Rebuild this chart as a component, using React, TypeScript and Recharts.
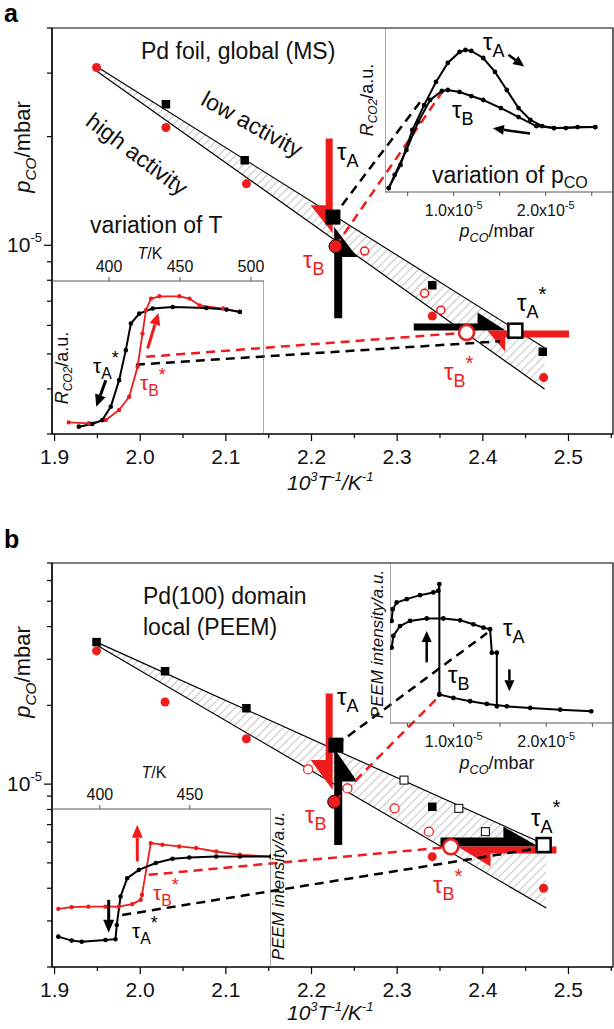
import React from 'react';
import { ComposedChart, LineChart, Line, Area, Scatter, XAxis, YAxis, ReferenceLine, ReferenceArea } from 'recharts';

const RED = '#ee1c1c';
const FONT = '"Liberation Sans", Arial, sans-serif';

// ---------- axes
const mainXTicks = [1.9, 1.95, 2.0, 2.05, 2.1, 2.15, 2.2, 2.25, 2.3, 2.35, 2.4, 2.45, 2.5, 2.55];
const yTicksA = [3e-6, 4e-6, 5e-6, 6e-6, 7e-6, 8e-6, 9e-6, 1e-5, 2e-5, 3e-5, 4e-5];
const yTicksB = [2e-6, 3e-6, 4e-6, 5e-6, 6e-6, 7e-6, 8e-6, 9e-6, 1e-5, 2e-5, 3e-5, 4e-5, 5e-5, 6e-5, 7e-5];
const pcoTicks = [0.5, 1.0, 1.5, 2.0, 2.5]; // x 1e-5 mbar
const tempTicksA = [400, 450, 500];
const tempTicksB = [400, 450];

// ---------- panel a, main plot (1000/T vs p_CO)
const bandA = [
  { x: 1.949, band: [3.04e-5, 3.13e-5] },
  { x: 2.472, band: [4.0e-6, 5.2e-6] },
];
const closedSquaresA = [
  { x: 2.030, y: 2.46e-5 }, { x: 2.122, y: 1.72e-5 }, { x: 2.341, y: 7.75e-6 }, { x: 2.470, y: 5.07e-6 },
];
const closedCirclesA = [
  { x: 1.949, y: 3.11e-5 }, { x: 2.030, y: 2.12e-5 }, { x: 2.124, y: 1.48e-5 }, { x: 2.341, y: 6.37e-6 }, { x: 2.471, y: 4.3e-6 },
];
const openCirclesA = [{ x: 2.262, y: 9.64e-6 }, { x: 2.332, y: 7.36e-6 }, { x: 2.351, y: 6.61e-6 }];
const tauAPointA = [{ x: 2.225, y: 1.197e-5 }];
const tauBPointA = [{ x: 2.228, y: 9.94e-6 }];
const tauAStarPointA = [{ x: 2.438, y: 5.8e-6 }];
const tauBStarPointA = [{ x: 2.381, y: 5.73e-6 }];
const linkABlackUp = [{ x: 2.225, y: 1.197e-5 }, { x: 2.328, y: 2.515e-5 }];
const linkARedUp = [{ x: 2.228, y: 9.94e-6 }, { x: 2.355, y: 2.71e-5 }];
const linkARedLow = [{ x: 2.007, y: 4.91e-6 }, { x: 2.381, y: 5.73e-6 }];
const linkABlackLow = [{ x: 1.995, y: 4.67e-6 }, { x: 2.42, y: 5.42e-6 }];
const harpoonARedV = [{ x: 2.2247, y: 1.975e-5 }, { x: 2.2247, y: 1.079e-5 }];
const harpoonABlackV = [{ x: 2.2265, y: 6.28e-6 }, { x: 2.2265, y: 1.123e-5 }];
const harpoonABlackH = [{ x: 2.3194, y: 5.81e-6 }, { x: 2.4266, y: 5.81e-6 }];
const harpoonARedH = [{ x: 2.5006, y: 5.81e-6 }, { x: 2.405, y: 5.81e-6 }];

// panel a, inset: variation of p_CO (x in 1e-5 mbar, R_CO2 a.u.)
const insetAPcoUp = [
  { x: 0.295, y: 0.024 }, { x: 0.423, y: 0.165 }, { x: 0.551, y: 0.378 }, { x: 0.679, y: 0.530 }, { x: 0.808, y: 0.671 },
  { x: 0.936, y: 0.787 }, { x: 1.064, y: 0.854 }, { x: 1.128, y: 0.866 }, { x: 1.192, y: 0.860 }, { x: 1.321, y: 0.817 },
  { x: 1.449, y: 0.732 }, { x: 1.577, y: 0.622 }, { x: 1.705, y: 0.512 }, { x: 1.833, y: 0.439 }, { x: 1.962, y: 0.402 },
  { x: 2.090, y: 0.390 }, { x: 2.218, y: 0.390 }, { x: 2.346, y: 0.396 }, { x: 2.538, y: 0.396 },
];
const insetAPcoDown = [
  { x: 0.295, y: 0.024 }, { x: 0.359, y: 0.104 }, { x: 0.487, y: 0.256 }, { x: 0.615, y: 0.427 }, { x: 0.744, y: 0.561 },
  { x: 0.872, y: 0.616 }, { x: 0.936, y: 0.622 }, { x: 1.064, y: 0.610 }, { x: 1.192, y: 0.585 }, { x: 1.321, y: 0.561 },
  { x: 1.513, y: 0.512 }, { x: 1.705, y: 0.457 }, { x: 1.897, y: 0.402 }, { x: 2.090, y: 0.390 }, { x: 2.538, y: 0.396 },
];
const insetAPcoArrowUp = [{ x: 1.595, y: 0.837 }, { x: 1.766, y: 0.765 }];
const insetAPcoArrowDown = [{ x: 1.829, y: 0.357 }, { x: 1.426, y: 0.388 }];

// panel a, inset: variation of T (T in K, R_CO2 a.u.)
const insetATempBlack = [
  { x: 378.7, y: 0.048 }, { x: 388.2, y: 0.065 }, { x: 395.2, y: 0.091 }, { x: 401.2, y: 0.178 }, { x: 407.1, y: 0.352 },
  { x: 411.8, y: 0.548 }, { x: 415.4, y: 0.722 }, { x: 421.3, y: 0.787 }, { x: 430.7, y: 0.820 }, { x: 444.9, y: 0.830 },
  { x: 468.6, y: 0.824 }, { x: 482.8, y: 0.813 }, { x: 492.2, y: 0.798 },
];
const insetATempRed = [
  { x: 371.6, y: 0.076 }, { x: 385.8, y: 0.070 }, { x: 397.7, y: 0.091 }, { x: 407.1, y: 0.157 }, { x: 414.2, y: 0.243 },
  { x: 420.1, y: 0.439 }, { x: 423.6, y: 0.657 }, { x: 426.0, y: 0.809 }, { x: 429.6, y: 0.885 }, { x: 435.5, y: 0.900 },
  { x: 449.6, y: 0.900 }, { x: 456.7, y: 0.885 }, { x: 463.8, y: 0.841 }, { x: 480.4, y: 0.820 }, { x: 492.2, y: 0.798 },
];
const insetATempArrowBlack = [{ x: 397.7, y: 0.352 }, { x: 391.0, y: 0.178 }];
const insetATempArrowRed = [{ x: 427.2, y: 0.559 }, { x: 434.8, y: 0.791 }];

// ---------- panel b, main plot
const bandB = [
  { x: 1.949, band: [3.40e-5, 3.49e-5] },
  { x: 2.474, band: [3.36e-6, 5.85e-6] },
];
const closedSquaresB = [{ x: 1.949, y: 3.49e-5 }, { x: 2.029, y: 2.70e-5 }, { x: 2.124, y: 1.95e-5 }, { x: 2.341, y: 8.19e-6 }];
const openSquaresB = [{ x: 2.308, y: 1.036e-5 }, { x: 2.372, y: 8.08e-6 }, { x: 2.403, y: 6.58e-6 }];
const closedCirclesB = [
  { x: 1.949, y: 3.23e-5 }, { x: 2.029, y: 2.06e-5 }, { x: 2.124, y: 1.49e-5 }, { x: 2.341, y: 5.28e-6 }, { x: 2.471, y: 4.0e-6 },
];
const openCirclesB = [{ x: 2.196, y: 1.138e-5 }, { x: 2.242, y: 9.63e-6 }, { x: 2.297, y: 8.08e-6 }, { x: 2.337, y: 6.58e-6 }];
const tauAPointB = [{ x: 2.2285, y: 1.409e-5 }];
const tauBPointB = [{ x: 2.2265, y: 8.56e-6 }];
const tauAStarPointB = [{ x: 2.471, y: 5.85e-6 }];
const tauBStarPointB = [{ x: 2.3626, y: 5.76e-6 }];
const linkBBlackUp = [{ x: 2.2285, y: 1.409e-5 }, { x: 2.405, y: 3.78e-5 }];
const linkBRedUp = [{ x: 2.2265, y: 8.56e-6 }, { x: 2.348, y: 2.15e-5 }];
const linkBRedLow = [{ x: 2.010, y: 4.50e-6 }, { x: 2.3626, y: 5.76e-6 }];
const linkBBlackLow = [{ x: 1.979, y: 3.16e-6 }, { x: 2.465, y: 5.69e-6 }];
const harpoonBRedV = [{ x: 2.2247, y: 2.219e-5 }, { x: 2.2247, y: 9.49e-6 }];
const harpoonBBlackV = [{ x: 2.2265, y: 5.85e-6 }, { x: 2.2265, y: 1.369e-5 }];
const harpoonBBlackH = [{ x: 2.3506, y: 5.77e-6 }, { x: 2.4649, y: 5.77e-6 }];
const harpoonBRedH = [{ x: 2.486, y: 5.77e-6 }, { x: 2.3705, y: 5.77e-6 }];

// panel b, inset: variation of p_CO (PEEM intensity)
const insetBPcoHigh = [
  { x: 0.328, y: 0.638 }, { x: 0.339, y: 0.711 }, { x: 0.382, y: 0.753 }, { x: 0.491, y: 0.774 }, { x: 0.635, y: 0.799 },
  { x: 0.779, y: 0.816 }, { x: 0.833, y: 0.826 }, { x: 0.844, y: 0.868 }, { x: 0.844, y: 0.178 },
];
const insetBPcoMid = [
  { x: 0.328, y: 0.471 }, { x: 0.346, y: 0.544 }, { x: 0.418, y: 0.606 }, { x: 0.527, y: 0.638 }, { x: 0.707, y: 0.653 },
  { x: 0.887, y: 0.653 }, { x: 1.068, y: 0.642 }, { x: 1.212, y: 0.617 }, { x: 1.321, y: 0.596 }, { x: 1.393, y: 0.586 },
  { x: 1.412, y: 0.439 }, { x: 1.466, y: 0.439 }, { x: 1.466, y: 0.104 },
];
const insetBPcoLow = [
  { x: 0.844, y: 0.178 }, { x: 0.996, y: 0.157 }, { x: 1.177, y: 0.136 }, { x: 1.358, y: 0.119 }, { x: 1.574, y: 0.104 },
  { x: 1.827, y: 0.094 }, { x: 2.152, y: 0.083 }, { x: 2.488, y: 0.073 },
];
const insetBPcoArrowUp = [{ x: 0.707, y: 0.379 }, { x: 0.707, y: 0.575 }];
const insetBPcoArrowDown = [{ x: 1.602, y: 0.335 }, { x: 1.602, y: 0.198 }];

// panel b, inset: variation of T
const insetBTempBlack = [
  { x: 376.9, y: 0.192 }, { x: 384.3, y: 0.167 }, { x: 389.9, y: 0.160 }, { x: 403.1, y: 0.171 }, { x: 408.7, y: 0.176 },
  { x: 409.4, y: 0.266 }, { x: 411.5, y: 0.446 }, { x: 415.2, y: 0.562 }, { x: 421.7, y: 0.615 }, { x: 431.1, y: 0.658 },
  { x: 440.4, y: 0.685 }, { x: 449.7, y: 0.693 }, { x: 464.7, y: 0.699 }, { x: 477.8, y: 0.699 }, { x: 495.1, y: 0.699 },
];
const insetBTempRed = [
  { x: 376.9, y: 0.368 }, { x: 384.3, y: 0.379 }, { x: 393.7, y: 0.382 }, { x: 403.1, y: 0.382 }, { x: 410.5, y: 0.382 },
  { x: 418.0, y: 0.398 }, { x: 422.7, y: 0.425 }, { x: 423.4, y: 0.457 }, { x: 428.3, y: 0.784 }, { x: 434.8, y: 0.774 },
  { x: 444.1, y: 0.763 }, { x: 453.5, y: 0.753 }, { x: 464.7, y: 0.731 }, { x: 477.8, y: 0.710 }, { x: 495.1, y: 0.699 },
];
const insetBTempArrowBlack = [{ x: 404.9, y: 0.425 }, { x: 404.9, y: 0.216 }];
const insetBTempArrowRed = [{ x: 420.8, y: 0.668 }, { x: 420.8, y: 0.900 }];

// ---------- shapes
const seg = (pts: any[]) => [{ x: pts[0].x, y: pts[0].y }, { x: pts[1].x, y: pts[1].y }];

// thick half-arrow: shaft and barb on one side of the line start -> tip
const harpoon = (shaft: number, headLen: number, headW: number, color: string, side = 1) => (p: any) => {
  const { x1, y1, x2, y2 } = p;
  const len = Math.hypot(x2 - x1, y2 - y1) || 1;
  const dx = (x2 - x1) / len;
  const dy = (y2 - y1) / len;
  const nx = -dy * side;
  const ny = dx * side;
  const bx = x2 - dx * headLen;
  const by = y2 - dy * headLen;
  const pts = [
    [x1, y1], [x2, y2], [bx + nx * headW, by + ny * headW], [bx + nx * shaft, by + ny * shaft], [x1 + nx * shaft, y1 + ny * shaft],
  ];
  return <polygon points={pts.map((q) => q.join(',')).join(' ')} fill={color} />;
};

const arrow = (color: string, w: number, headLen: number, headW: number) => (p: any) => {
  const { x1, y1, x2, y2 } = p;
  const len = Math.hypot(x2 - x1, y2 - y1) || 1;
  const dx = (x2 - x1) / len;
  const dy = (y2 - y1) / len;
  const bx = x2 - dx * headLen;
  const by = y2 - dy * headLen;
  return (
    <g>
      <line x1={x1} y1={y1} x2={bx} y2={by} stroke={color} strokeWidth={w} />
      <polygon points={`${x2},${y2} ${bx - dy * headW},${by + dx * headW} ${bx + dy * headW},${by - dx * headW}`} fill={color} />
    </g>
  );
};

const square = (size: number, fill: string, stroke = 'none', sw = 0) => (p: any) => (
  <rect x={p.cx - size / 2} y={p.cy - size / 2} width={size} height={size} fill={fill} stroke={stroke} strokeWidth={sw} />
);
const circle = (r: number, fill: string, stroke = 'none', sw = 0) => (p: any) => (
  <circle cx={p.cx} cy={p.cy} r={r} fill={fill} stroke={stroke} strokeWidth={sw} />
);

// ---------- ticks
const MainXTick = (p: any) => {
  const { x, y, payload } = p;
  const v = payload.value;
  const major = Math.abs(v * 10 - Math.round(v * 10)) < 1e-6;
  return (
    <g>
      <line x1={x} x2={x} y1={y} y2={y + (major ? 7 : 4)} stroke="#000" strokeWidth={1.2} />
      {major && (
        <text x={x} y={y + 30} textAnchor="middle" fontSize={21} fontFamily={FONT} fill="#111">
          {v.toFixed(1)}
        </text>
      )}
    </g>
  );
};

const MainYTick = (p: any) => {
  const { x, y, payload } = p;
  const decade = Math.abs(payload.value - 1e-5) < 1e-9;
  return (
    <g>
      <line x1={x - (decade ? 8 : 5)} x2={x} y1={y} y2={y} stroke="#000" strokeWidth={1.2} />
      {decade && (
        <text x={x - 10} y={y + 7} textAnchor="end" fontSize={21} fontFamily={FONT} fill="#111">
          10<tspan fontSize={13} dy={-10}>-5</tspan>
        </text>
      )}
    </g>
  );
};

const PcoTick = (p: any) => {
  const { x, y, payload } = p;
  const v = payload.value;
  const labelled = Math.abs(v - Math.round(v)) < 1e-6;
  return (
    <g>
      <line x1={x} x2={x} y1={y} y2={y + 4} stroke="#555" />
      {labelled && (
        <text x={x} y={y + 24} textAnchor="middle" fontSize={16} fontFamily={FONT} fill="#111">
          {v.toFixed(1)}x10<tspan fontSize={11} dy={-7}>-5</tspan>
        </text>
      )}
    </g>
  );
};

const TempTick = (p: any) => {
  const { x, y, payload } = p;
  return (
    <g>
      <line x1={x} x2={x} y1={y} y2={y - 4} stroke="#555" />
      <text x={x} y={y - 9} textAnchor="middle" fontSize={16} fontFamily={FONT} fill="#111">
        {payload.value}
      </text>
    </g>
  );
};

// ---------- text helpers
function Tau({ x, y, sub, star = false, color = '#000', size = 24, rise = 0.7 }: any) {
  return (
    <text x={x} y={y} fill={color} fontSize={size} fontFamily={FONT}>
      τ<tspan fontSize={size * 0.75} dy={size * 0.28}>{sub}</tspan>
      {star ? <tspan fontSize={size * 0.85} dy={-size * rise}>*</tspan> : null}
    </text>
  );
}

function Pco({ x, y, size = 18, anchor = 'middle', transform }: any) {
  return (
    <text x={x} y={y} fontSize={size} fontFamily={FONT} textAnchor={anchor} transform={transform} fill="#111">
      <tspan fontStyle="italic">p</tspan>
      <tspan fontStyle="italic" fontSize={size * 0.7} dy={size * 0.25}>CO</tspan>
      <tspan dy={-size * 0.25}>/mbar</tspan>
    </text>
  );
}

function XTitle({ x, y }: any) {
  return (
    <text x={x} y={y} fontSize={21} fontFamily={FONT} fontStyle="italic" fill="#111">
      10<tspan fontSize={13} dy={-9}>3</tspan>
      <tspan dy={9}>T</tspan>
      <tspan fontSize={13} dy={-9}>-1</tspan>
      <tspan dy={9}>/K</tspan>
      <tspan fontSize={13} dy={-9}>-1</tspan>
    </text>
  );
}

function Rco2({ cx, cy }: any) {
  return (
    <text x={0} y={0} fontSize={18} fontFamily={FONT} textAnchor="middle" transform={`translate(${cx},${cy}) rotate(-90)`} fill="#111">
      <tspan fontStyle="italic">R</tspan>
      <tspan fontStyle="italic" fontSize={12} dy={4}>CO2</tspan>
      <tspan dy={-4}>/a.u.</tspan>
    </text>
  );
}

function Peem({ cx, cy }: any) {
  return (
    <text x={0} y={0} fontSize={17} fontFamily={FONT} fontStyle="italic" textAnchor="middle" transform={`translate(${cx},${cy}) rotate(-90)`} fill="#111">
      PEEM intensity/a.u.
    </text>
  );
}

// ---------- charts
function MainPanel({ band, hatchId, yDomain, yTicks, height, top, bottom, children }: any) {
  return (
    <ComposedChart width={614} height={height} data={band} margin={{ top, right: 1, left: 8, bottom }}>
      <defs>
        <pattern id={hatchId} patternUnits="userSpaceOnUse" width={6} height={6} patternTransform="rotate(45)">
          <line x1={0} y1={0} x2={0} y2={6} stroke="#8c8c8c" strokeWidth={1} />
        </pattern>
      </defs>
      <XAxis
        type="number" dataKey="x" domain={[1.897, 2.552]} allowDataOverflow ticks={mainXTicks} interval={0}
        tick={(p: any) => <MainXTick {...p} />} tickLine={false} tickSize={0} tickMargin={0} height={30}
        axisLine={{ stroke: '#000', strokeWidth: 1.2 }}
      />
      <YAxis
        type="number" scale="log" domain={yDomain} allowDataOverflow ticks={yTicks} interval={0}
        tick={(p: any) => <MainYTick {...p} />} tickLine={false} tickSize={0} tickMargin={0} width={44}
        axisLine={{ stroke: '#000', strokeWidth: 1.2 }}
      />
      <ReferenceArea x1={1.897} x2={2.552} y1={yDomain[0]} y2={yDomain[1]} fill="none" stroke="#000" strokeWidth={1.2} ifOverflow="visible" />
      <Area type="linear" dataKey="band" stroke="#000" strokeWidth={1.2} fill={`url(#${hatchId})`} fillOpacity={1} isAnimationActive={false} />
      {children}
    </ComposedChart>
  );
}

const dashed = (data: any[], color: string) => (
  <Line data={data} dataKey="y" stroke={color} strokeWidth={2.5} strokeDasharray="9 6" dot={false} isAnimationActive={false} />
);

export default function App() {
  return (
    <div style={{ position: 'absolute', left: 0, top: 0, width: 614, height: 1029, background: '#fff', overflow: 'hidden' }}>
      {/* panel a main */}
      <div style={{ position: 'absolute', left: 0, top: 0 }}>
        <MainPanel band={bandA} hatchId="hatchA" yDomain={[3e-6, 4e-5]} yTicks={yTicksA} height={500} top={28} bottom={36}>
          <ReferenceLine segment={seg(harpoonARedV)} shape={harpoon(7, 28, 22, RED)} ifOverflow="visible" />
          <ReferenceLine segment={seg(harpoonABlackV)} shape={harpoon(8, 30, 23, '#000')} ifOverflow="visible" />
          <ReferenceLine segment={seg(harpoonABlackH)} shape={harpoon(7, 28, 18, '#000', -1)} ifOverflow="visible" />
          <ReferenceLine segment={seg(harpoonARedH)} shape={harpoon(7, 18, 21, RED, -1)} ifOverflow="visible" />
          {dashed(linkABlackUp, '#000')}
          {dashed(linkARedUp, RED)}
          {dashed(linkARedLow, RED)}
          {dashed(linkABlackLow, '#000')}
          <Scatter data={closedSquaresA} dataKey="y" shape={square(8.5, '#000')} isAnimationActive={false} />
          <Scatter data={closedCirclesA} dataKey="y" shape={circle(4.5, RED)} isAnimationActive={false} />
          <Scatter data={openCirclesA} dataKey="y" shape={circle(4, '#fff', RED, 1.5)} isAnimationActive={false} />
          <Scatter data={tauAPointA} dataKey="y" shape={square(15, '#000')} isAnimationActive={false} />
          <Scatter data={tauBPointA} dataKey="y" shape={circle(6.5, RED, '#000', 1)} isAnimationActive={false} />
          <Scatter data={tauBStarPointA} dataKey="y" shape={circle(7.5, '#fff', RED, 2.5)} isAnimationActive={false} />
          <Scatter data={tauAStarPointA} dataKey="y" shape={square(14, '#fff', '#000', 2.5)} isAnimationActive={false} />
        </MainPanel>
      </div>

      {/* panel a inset: variation of p_CO */}
      <div style={{ position: 'absolute', left: 385, top: 28 }}>
        <LineChart width={228} height={194} margin={{ top: 0, right: 0, left: 0, bottom: 0 }}>
          <XAxis
            type="number" dataKey="x" domain={[0.254, 2.731]} allowDataOverflow ticks={pcoTicks} interval={0}
            tick={(p: any) => <PcoTick {...p} />} tickLine={false} tickSize={0} tickMargin={0} height={30}
            axisLine={{ stroke: '#555' }}
          />
          <YAxis type="number" domain={[0, 1]} hide />
          <ReferenceLine x={0.254} stroke="#555" ifOverflow="visible" />
          <Line data={insetAPcoUp} dataKey="y" stroke="#000" strokeWidth={2} dot={{ r: 1.4, fill: '#000', stroke: '#000' }} isAnimationActive={false} />
          <Line data={insetAPcoDown} dataKey="y" stroke="#000" strokeWidth={2} dot={{ r: 1.4, fill: '#000', stroke: '#000' }} isAnimationActive={false} />
          <ReferenceLine segment={seg(insetAPcoArrowUp)} shape={arrow('#000', 2.5, 11, 5)} ifOverflow="visible" />
          <ReferenceLine segment={seg(insetAPcoArrowDown)} shape={arrow('#000', 2.5, 11, 5)} ifOverflow="visible" />
        </LineChart>
      </div>

      {/* panel a inset: variation of T */}
      <div style={{ position: 'absolute', left: 52, top: 251 }}>
        <LineChart width={212} height={183} margin={{ top: 0, right: 0, left: 0, bottom: 0 }}>
          <XAxis
            type="number" dataKey="x" orientation="top" domain={[359.8, 509.2]} allowDataOverflow ticks={tempTicksA} interval={0}
            tick={(p: any) => <TempTick {...p} />} tickLine={false} tickSize={0} tickMargin={0} height={30}
            axisLine={{ stroke: '#555' }}
          />
          <YAxis type="number" domain={[0, 1]} hide />
          <ReferenceLine x={509.2} stroke="#555" ifOverflow="visible" />
          <Line data={insetATempRed} dataKey="y" stroke={RED} strokeWidth={1.8} dot={{ r: 1.3, fill: RED, stroke: RED }} isAnimationActive={false} />
          <Line data={insetATempBlack} dataKey="y" stroke="#000" strokeWidth={2} dot={{ r: 1.3, fill: '#000', stroke: '#000' }} isAnimationActive={false} />
          <ReferenceLine segment={seg(insetATempArrowBlack)} shape={arrow('#000', 3, 12, 5.5)} ifOverflow="visible" />
          <ReferenceLine segment={seg(insetATempArrowRed)} shape={arrow(RED, 3, 12, 5.5)} ifOverflow="visible" />
        </LineChart>
      </div>

      {/* panel b main */}
      <div style={{ position: 'absolute', left: 0, top: 535 }}>
        <MainPanel band={bandB} hatchId="hatchB" yDomain={[2e-6, 7e-5]} yTicks={yTicksB} height={494} top={28} bottom={32}>
          <ReferenceLine segment={seg(harpoonBRedV)} shape={harpoon(7, 30, 22, RED)} ifOverflow="visible" />
          <ReferenceLine segment={seg(harpoonBBlackV)} shape={harpoon(8, 33, 23, '#000')} ifOverflow="visible" />
          <ReferenceLine segment={seg(harpoonBBlackH)} shape={harpoon(9, 35, 20, '#000', -1)} ifOverflow="visible" />
          <ReferenceLine segment={seg(harpoonBRedH)} shape={harpoon(7, 33, 20, RED, -1)} ifOverflow="visible" />
          {dashed(linkBBlackUp, '#000')}
          {dashed(linkBRedUp, RED)}
          {dashed(linkBRedLow, RED)}
          {dashed(linkBBlackLow, '#000')}
          <Scatter data={closedSquaresB} dataKey="y" shape={square(8.5, '#000')} isAnimationActive={false} />
          <Scatter data={openSquaresB} dataKey="y" shape={square(8, '#fff', '#000', 1)} isAnimationActive={false} />
          <Scatter data={closedCirclesB} dataKey="y" shape={circle(4.5, RED)} isAnimationActive={false} />
          <Scatter data={openCirclesB} dataKey="y" shape={circle(4.5, '#fff', RED, 1.2)} isAnimationActive={false} />
          <Scatter data={tauAPointB} dataKey="y" shape={square(15, '#000')} isAnimationActive={false} />
          <Scatter data={tauBPointB} dataKey="y" shape={circle(6.5, RED, '#000', 1)} isAnimationActive={false} />
          <Scatter data={tauBStarPointB} dataKey="y" shape={circle(7.5, '#fff', RED, 2.5)} isAnimationActive={false} />
          <Scatter data={tauAStarPointB} dataKey="y" shape={square(14, '#fff', '#000', 2.5)} isAnimationActive={false} />
        </MainPanel>
      </div>

      {/* panel b inset: variation of p_CO */}
      <div style={{ position: 'absolute', left: 390, top: 563 }}>
        <LineChart width={223} height={190} margin={{ top: 0, right: 0, left: 0, bottom: 0 }}>
          <XAxis
            type="number" dataKey="x" domain={[0.31, 2.723]} allowDataOverflow ticks={pcoTicks} interval={0}
            tick={(p: any) => <PcoTick {...p} />} tickLine={false} tickSize={0} tickMargin={0} height={30}
            axisLine={{ stroke: '#555' }}
          />
          <YAxis type="number" domain={[0, 1]} hide />
          <ReferenceLine x={0.31} stroke="#555" ifOverflow="visible" />
          <Line data={insetBPcoHigh} dataKey="y" stroke="#000" strokeWidth={2} dot={{ r: 1.4, fill: '#000', stroke: '#000' }} isAnimationActive={false} />
          <Line data={insetBPcoMid} dataKey="y" stroke="#000" strokeWidth={2} dot={{ r: 1.4, fill: '#000', stroke: '#000' }} isAnimationActive={false} />
          <Line data={insetBPcoLow} dataKey="y" stroke="#000" strokeWidth={2} dot={{ r: 1.4, fill: '#000', stroke: '#000' }} isAnimationActive={false} />
          <ReferenceLine segment={seg(insetBPcoArrowUp)} shape={arrow('#000', 2.5, 11, 5)} ifOverflow="visible" />
          <ReferenceLine segment={seg(insetBPcoArrowDown)} shape={arrow('#000', 2.5, 11, 5)} ifOverflow="visible" />
        </LineChart>
      </div>

      {/* panel b inset: variation of T */}
      <div style={{ position: 'absolute', left: 52, top: 779 }}>
        <LineChart width={219} height={188} margin={{ top: 0, right: 0, left: 0, bottom: 0 }}>
          <XAxis
            type="number" dataKey="x" orientation="top" domain={[373.4, 495.1]} allowDataOverflow ticks={tempTicksB} interval={0}
            tick={(p: any) => <TempTick {...p} />} tickLine={false} tickSize={0} tickMargin={0} height={30}
            axisLine={{ stroke: '#555' }}
          />
          <YAxis type="number" domain={[0, 1]} hide />
          <ReferenceLine x={495.1} stroke="#555" ifOverflow="visible" />
          <Line data={insetBTempRed} dataKey="y" stroke={RED} strokeWidth={1.8} dot={{ r: 1.3, fill: RED, stroke: RED }} isAnimationActive={false} />
          <Line data={insetBTempBlack} dataKey="y" stroke="#000" strokeWidth={2} dot={{ r: 1.3, fill: '#000', stroke: '#000' }} isAnimationActive={false} />
          <ReferenceLine segment={seg(insetBTempArrowBlack)} shape={arrow('#000', 3, 13, 5.5)} ifOverflow="visible" />
          <ReferenceLine segment={seg(insetBTempArrowRed)} shape={arrow(RED, 3, 13, 5.5)} ifOverflow="visible" />
        </LineChart>
      </div>

      {/* annotations */}
      <svg width={614} height={1029} style={{ position: 'absolute', left: 0, top: 0, pointerEvents: 'none' }}>
        <text x={4} y={22} fontSize={25} fontWeight="bold" fontFamily={FONT}>a</text>
        <text x={141} y={59} fontSize={23} fontFamily={FONT} fill="#111">Pd foil, global (MS)</text>
        <text x={0} y={0} fontSize={23} fontFamily={FONT} textAnchor="middle" dominantBaseline="central" transform="translate(252,124) rotate(29)" fill="#111">low activity</text>
        <text x={0} y={0} fontSize={23} fontFamily={FONT} textAnchor="middle" dominantBaseline="central" transform="translate(137,154) rotate(37)" fill="#111">high activity</text>
        <text x={90} y={233} fontSize={23} fontFamily={FONT} fill="#111">variation of T</text>
        <text x={150} y={259} fontSize={16} fontFamily={FONT} textAnchor="middle" fill="#111"><tspan fontStyle="italic">T</tspan>/K</text>
        <Rco2 cx={68} cy={368} />
        <Tau x={93} y={373} sub="A" star size={21} />
        <Tau x={140} y={390} sub="B" star size={21} color={RED} />
        <Tau x={483} y={50} sub="A" />
        <Tau x={452} y={118} sub="B" />
        <text x={432} y={183} fontSize={23} fontFamily={FONT} fill="#111">
          variation of p<tspan fontSize={16} dy={5}>CO</tspan>
        </text>
        <Pco x={497} y={237} />
        <Rco2 cx={373} cy={100} />
        <Pco x={0} y={0} size={22} transform="translate(30,147) rotate(-90)" />
        <XTitle x={287} y={490} />
        <Tau x={337} y={160} sub="A" />
        <Tau x={303} y={268} sub="B" color={RED} />
        <Tau x={517} y={311} sub="A" star />
        <Tau x={444} y={380} sub="B" star color={RED} />

        <text x={4} y={548} fontSize={25} fontWeight="bold" fontFamily={FONT}>b</text>
        <text x={143} y={604} fontSize={23} fontFamily={FONT} fill="#111">Pd(100) domain</text>
        <text x={143} y={635} fontSize={23} fontFamily={FONT} fill="#111">local (PEEM)</text>
        <Pco x={0} y={0} size={22} transform="translate(30,672) rotate(-90)" />
        <Tau x={337} y={705} sub="A" />
        <Tau x={305} y={823} sub="B" color={RED} />
        <Tau x={531} y={826} sub="A" star rise={0.8} />
        <Tau x={433} y={893} sub="B" star color={RED} />
        <Tau x={503} y={636} sub="A" />
        <Tau x={448} y={683} sub="B" />
        <Peem cx={383} cy={644} />
        <Pco x={497} y={769} />
        <text x={154} y={778} fontSize={16} fontFamily={FONT} textAnchor="middle" fill="#111"><tspan fontStyle="italic">T</tspan>/K</text>
        <Tau x={153} y={900} sub="B" star size={21} color={RED} />
        <Tau x={132} y={938} sub="A" star size={21} />
        <Peem cx={284} cy={886} />
        <XTitle x={287} y={1020} />
      </svg>
    </div>
  );
}
